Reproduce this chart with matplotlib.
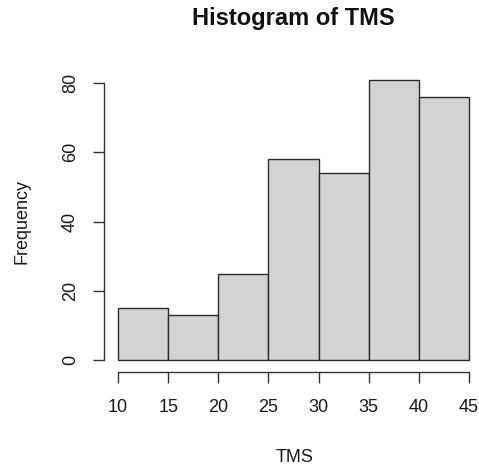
import numpy as np
import matplotlib
matplotlib.use("Agg")
import matplotlib.pyplot as plt

plt.rcParams['font.family'] = ['Liberation Sans', 'DejaVu Sans']

bin_edges = [10, 15, 20, 25, 30, 35, 40, 45]
counts = [15, 13, 25, 58, 54, 81, 76]
x_ticks = [10, 15, 20, 25, 30, 35, 40, 45]
y_ticks = [0, 20, 40, 60, 80]

W, H = 479, 466
fig = plt.figure(figsize=(W / 100, H / 100), dpi=100)
# plot region in pixels: left, right, top, bottom
left, right, top, bottom = 104, 483, 68.3, 371.5
ax = fig.add_axes([left / W, 1 - bottom / H, (right - left) / W, (bottom - top) / H])

edges = np.array(bin_edges)
ax.bar(edges[:-1], counts, width=np.diff(edges), align='edge',
       color='#d3d3d3', edgecolor='#2b2b2b', linewidth=1.0)

# R style usr range: 4% extension each side
xr = edges[-1] - edges[0]
ax.set_xlim(edges[0] - 0.04 * xr, edges[-1] + 0.04 * xr)
ymax = max(counts)
ax.set_ylim(-0.04 * ymax, ymax * 1.04)

for s in ['top', 'right']:
    ax.spines[s].set_visible(False)
ax.spines['left'].set_bounds(0, 80)
ax.spines['bottom'].set_bounds(10, 45)
for s in ['left', 'bottom']:
    ax.spines[s].set_color('#333333')
    ax.spines[s].set_linewidth(1.0)

ax.set_xticks(x_ticks)
ax.set_yticks(y_ticks)
ax.tick_params(axis='both', direction='out', length=8, width=1.0, color='#333333',
               labelsize=13, labelcolor='#1a1a1a')
ax.tick_params(axis='x', pad=12)
ax.tick_params(axis='y', pad=10)
for lab in ax.get_yticklabels():
    lab.set_rotation(90)
    lab.set_va('center')

fig.text(293 / W, 1 - 19 / H, 'Histogram of TMS', ha='center', va='center',
         fontsize=17, fontweight='bold', color='#111111')
fig.text(295 / W, 1 - 457 / H, 'TMS', ha='center', va='center',
         fontsize=13, color='#1a1a1a')
fig.text(22 / W, 1 - 221 / H, 'Frequency', ha='center', va='center',
         rotation=90, fontsize=13, color='#1a1a1a')

fig.savefig('out.png', dpi=100)
